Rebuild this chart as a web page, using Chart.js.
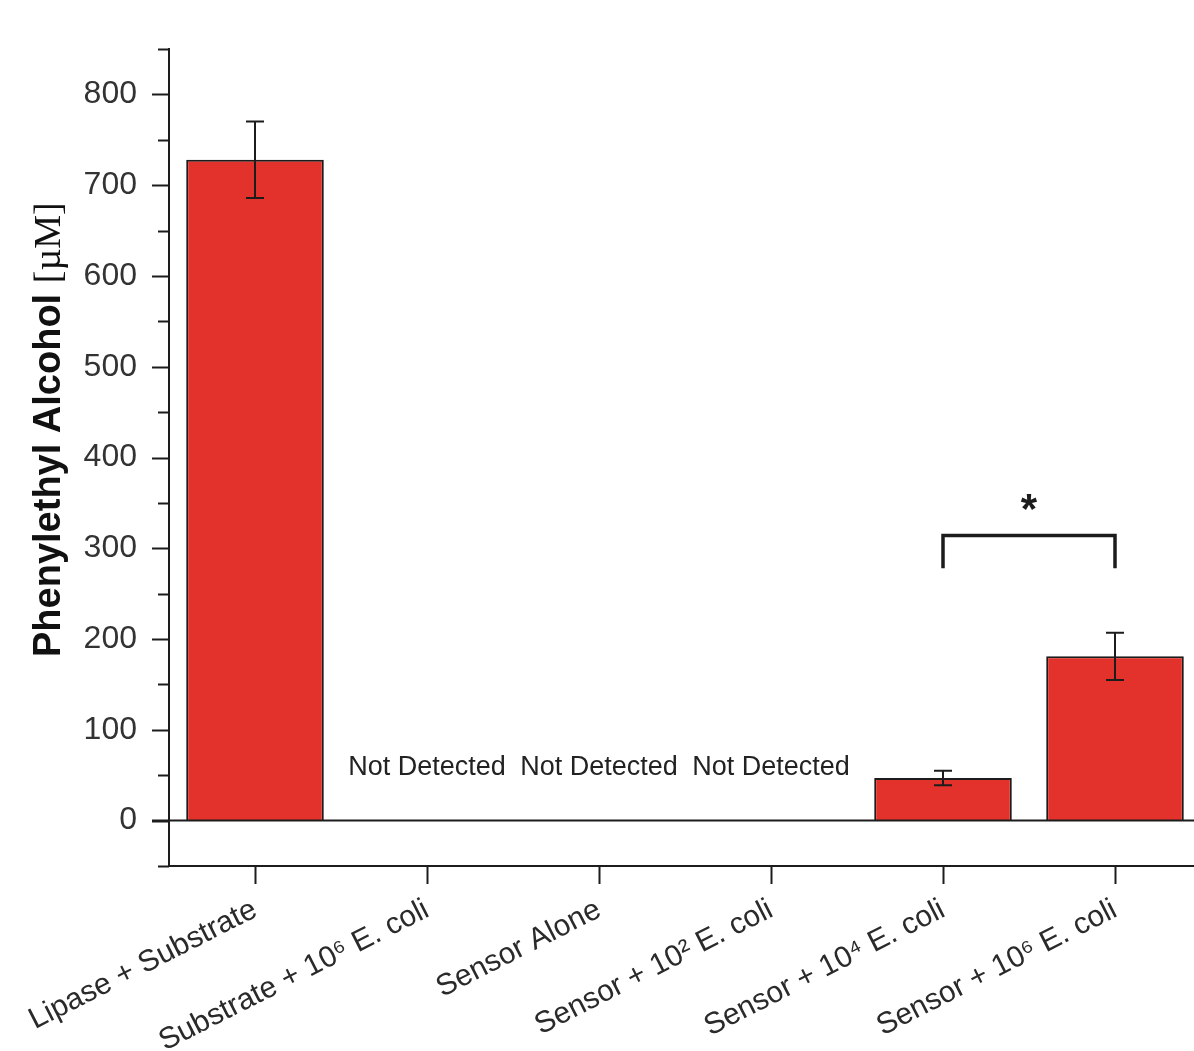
<!DOCTYPE html>
<html>
<head>
<meta charset="utf-8">
<script src="https://cdn.jsdelivr.net/npm/chart.js@4/dist/chart.umd.min.js"></script>
<style>
  html, body { margin: 0; padding: 0; background: #ffffff; overflow: hidden; }
  #wrap { width: 1202px; height: 1051px; position: relative; }
</style>
</head>
<body>
<div id="wrap"><canvas id="alcoholChart"></canvas></div>
<script>
const categories = [
  "Lipase + Substrate",
  "Substrate + 10⁶ E. coli",
  "Sensor Alone",
  "Sensor + 10² E. coli",
  "Sensor + 10⁴ E. coli",
  "Sensor + 10⁶ E. coli"
];
const alcoholMean = [728, null, null, null, 47, 181];
const alcoholError = [42, null, null, null, 8, 26];
const notDetected = [false, true, true, true, false, false];
const notDetectedLevel = 58;
const yMin = -50;
const yMax = 850;
const yMajorStep = 100;
const yMinorStep = 50;

// significance bracket between Sensor + 10^4 and Sensor + 10^6
const bracketPair = [4, 5];
const bracketTop = 314;
const bracketBottom = 278;
const starLevel = 352;

const ink = "#1c1c1c";
const barRed = "#e3322b";

const extrasPlugin = {
  id: "extras",
  afterDatasetsDraw(chart) {
    const ctx = chart.ctx;
    const x = chart.scales.x;
    const y = chart.scales.y;
    const area = chart.chartArea;
    ctx.save();

    // zero line
    ctx.strokeStyle = ink;
    ctx.lineWidth = 2;
    ctx.beginPath();
    ctx.moveTo(area.left - 17, y.getPixelForValue(0));
    ctx.lineTo(area.right, y.getPixelForValue(0));
    ctx.stroke();

    // y ticks, major and minor
    for (let v = yMin; v <= yMax; v += yMinorStep) {
      const py = Math.round(y.getPixelForValue(v)) + 0.5;
      const len = v % yMajorStep === 0 ? 17 : 11;
      ctx.lineWidth = 2;
      ctx.beginPath();
      ctx.moveTo(area.left - len, py);
      ctx.lineTo(area.left, py);
      ctx.stroke();
    }

    // x ticks pointing down
    categories.forEach((c, i) => {
      const px = Math.round(x.getPixelForValue(i)) + 0.5;
      ctx.beginPath();
      ctx.moveTo(px, area.bottom);
      ctx.lineTo(px, area.bottom + 18);
      ctx.stroke();
    });

    // error bars
    ctx.lineWidth = 2;
    alcoholMean.forEach((m, i) => {
      if (m === null) return;
      const px = x.getPixelForValue(i);
      const top = y.getPixelForValue(m + alcoholError[i]);
      const bot = y.getPixelForValue(m - alcoholError[i]);
      const cap = 9;
      ctx.beginPath();
      ctx.moveTo(px, top); ctx.lineTo(px, bot);
      ctx.moveTo(px - cap, top); ctx.lineTo(px + cap, top);
      ctx.moveTo(px - cap, bot); ctx.lineTo(px + cap, bot);
      ctx.stroke();
    });

    // not detected labels
    ctx.fillStyle = "#222";
    ctx.font = "27px 'Liberation Sans', Arial, sans-serif";
    ctx.textAlign = "center";
    ctx.textBaseline = "middle";
    notDetected.forEach((nd, i) => {
      if (!nd) return;
      ctx.fillText("Not Detected", x.getPixelForValue(i), y.getPixelForValue(notDetectedLevel));
    });

    // significance bracket
    const bx1 = x.getPixelForValue(bracketPair[0]);
    const bx2 = x.getPixelForValue(bracketPair[1]);
    const byTop = y.getPixelForValue(bracketTop);
    const byBot = y.getPixelForValue(bracketBottom);
    ctx.lineWidth = 3.5;
    ctx.lineCap = "butt";
    ctx.beginPath();
    ctx.moveTo(bx1, byBot);
    ctx.lineTo(bx1, byTop);
    ctx.lineTo(bx2, byTop);
    ctx.lineTo(bx2, byBot);
    ctx.stroke();
    ctx.font = "bold 42px 'Liberation Sans', Arial, sans-serif";
    ctx.fillStyle = ink;
    ctx.fillText("*", (bx1 + bx2) / 2, y.getPixelForValue(starLevel) + 10);

    ctx.restore();
  },
  afterDraw(chart) {
    // y axis title, mixed fonts
    const ctx = chart.ctx;
    ctx.save();
    ctx.translate(50, 657);
    ctx.rotate(-Math.PI / 2);
    ctx.fillStyle = "#111";
    ctx.textBaseline = "middle";
    ctx.textAlign = "left";
    ctx.font = "bold 38px 'Liberation Sans', Arial, sans-serif";
    const main = "Phenylethyl Alcohol ";
    ctx.fillText(main, 0, 0);
    const w = ctx.measureText(main).width;
    ctx.font = "38px 'Liberation Serif', 'Times New Roman', serif";
    ctx.fillText("[µM]", w, 0);
    ctx.restore();
  }
};

new Chart(document.getElementById("alcoholChart"), {
  type: "bar",
  data: {
    labels: categories,
    datasets: [{
      data: alcoholMean,
      backgroundColor: barRed,
      borderColor: ink,
      borderWidth: 2,
      borderSkipped: "bottom",
      barPercentage: 0.8,
      categoryPercentage: 1.0
    }]
  },
  options: {
    responsive: true,
    maintainAspectRatio: false,
    animation: false,
    layout: { padding: { top: 49, right: 1, left: 0, bottom: 0 } },
    plugins: {
      legend: { display: false },
      tooltip: { enabled: false }
    },
    scales: {
      x: {
        offset: true,
        grid: { display: false, drawTicks: false },
        border: { display: true, color: ink, width: 2 },
        ticks: {
          color: "#2a2a2a",
          font: { family: "'Liberation Sans', Arial, sans-serif", size: 30 },
          minRotation: 27,
          maxRotation: 27,
          padding: 26,
          autoSkip: false
        },
        afterFit(scale) {
          scale.height = 1051 - 866;
          scale.paddingLeft = 0;
          scale.paddingRight = 0;
        }
      },
      y: {
        min: yMin,
        max: yMax,
        grid: { display: false, drawTicks: false },
        border: { display: true, color: ink, width: 2 },
        ticks: {
          stepSize: yMinorStep,
          color: "#333",
          padding: 32,
          font: { family: "'Liberation Sans', Arial, sans-serif", size: 32 },
          callback: v => (v >= 0 && v % yMajorStep === 0) ? v : ""
        },
        afterFit(scale) {
          scale.width = 169;
          scale.paddingTop = 0;
          scale.paddingBottom = 0;
        }
      }
    }
  },
  plugins: [extrasPlugin]
});
</script>
</body>
</html>
